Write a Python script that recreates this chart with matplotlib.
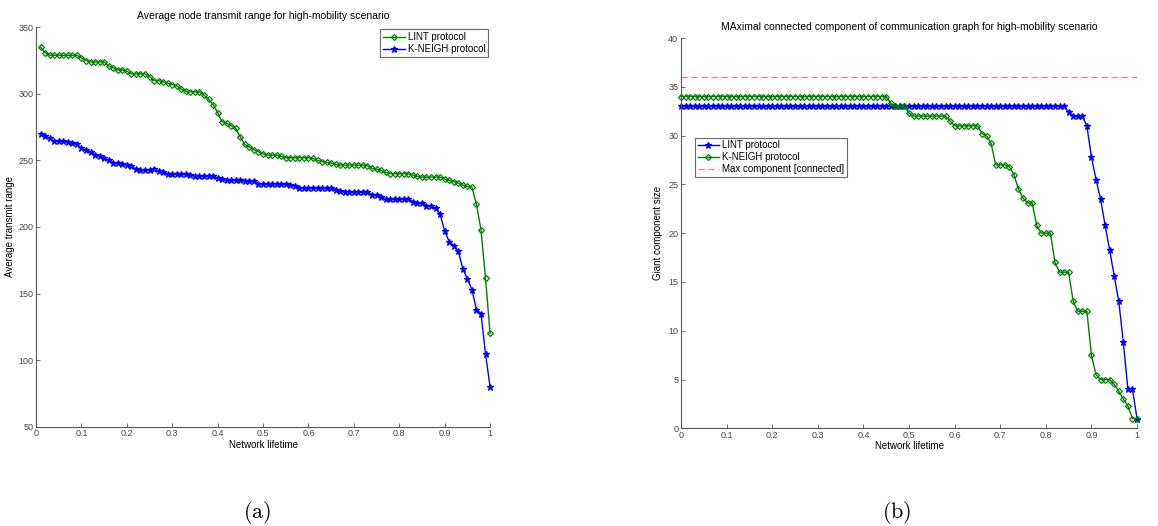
import numpy as np
import matplotlib
matplotlib.use("Agg")
import matplotlib.pyplot as plt
from matplotlib.ticker import FormatStrFormatter

plt.rcParams['font.family'] = ['Liberation Sans', 'DejaVu Sans']
plt.rcParams['mathtext.fontset'] = 'cm'

# =========================================================
# DATA
# =========================================================
# (a) average node transmit range, lifetime 0.01 .. 1.00
lifetime_a = np.round(np.arange(1, 101) / 100, 2)
lint_range = [
    335, 331, 329, 329, 329, 329, 329, 329, 329, 327,
    325, 324, 324, 324, 324, 321, 319.5, 318, 318, 317,
    315, 315, 315, 315, 313, 310, 310, 309, 308, 307,
    306, 303.5, 302, 301.5, 301.5, 301.5, 299, 296, 292, 286,
    279, 278, 276, 274, 267.5, 262, 260, 258, 256.5, 255,
    254, 254, 254, 253, 252, 252, 252, 252, 252, 252,
    251.5, 250, 249, 248.5, 248, 247, 246.5, 246.5, 246.5, 246.5,
    246.5, 246.5, 246, 244, 243.5, 242.5, 241, 240, 240, 240,
    240, 240, 239, 238, 237.5, 237.5, 237.5, 237.5, 237.5, 236,
    235, 234, 233, 231.5, 230.5, 230, 217, 198, 161.5, 120,
]
kneigh_range = [
    270, 268.5, 266.5, 264.5, 264.5, 264.5, 264, 263, 262, 259,
    257.5, 256.5, 254, 253.5, 252, 250, 248, 248, 247.5, 246.5,
    245.5, 243.5, 243, 243, 243, 243.5, 242, 241, 240, 240,
    240, 240, 240, 239, 238.5, 238, 238, 238, 238, 236.5,
    236, 235.5, 235.5, 235.5, 235, 234.5, 234.5, 234.5, 232.5, 232,
    232, 232, 232, 232, 232, 231.5, 231, 229.5, 229.5, 229.5,
    229.5, 229.5, 229.5, 229.5, 229.5, 228, 226.75, 226.25, 226.25, 226.25,
    226.25, 226.25, 226.25, 224, 223.75, 222.5, 221, 221, 221, 221,
    221, 221, 219, 218, 218, 216, 215.5, 214, 209.5, 197,
    189, 186, 182, 168.5, 161, 153, 138, 135, 104.5, 80,
]

# (b) giant component size, lifetime 0.00 .. 1.00
lifetime_b = np.round(np.arange(0, 101) / 100, 2)
lint_giant = [
    33, 33, 33, 33, 33, 33, 33, 33, 33, 33,
    33, 33, 33, 33, 33, 33, 33, 33, 33, 33,
    33, 33, 33, 33, 33, 33, 33, 33, 33, 33,
    33, 33, 33, 33, 33, 33, 33, 33, 33, 33,
    33, 33, 33, 33, 33, 33, 33, 33, 33, 33,
    33, 33, 33, 33, 33, 33, 33, 33, 33, 33,
    33, 33, 33, 33, 33, 33, 33, 33, 33, 33,
    33, 33, 33, 33, 33, 33, 33, 33, 33, 33,
    33, 33, 33, 33, 33, 32.4, 32, 32, 32, 31,
    27.8, 25.5, 23.5, 20.8, 18.25, 15.6, 13.0, 8.8, 4, 4,
    1,
]
kneigh_giant = [
    34, 34, 34, 34, 34, 34, 34, 34, 34, 34,
    34, 34, 34, 34, 34, 34, 34, 34, 34, 34,
    34, 34, 34, 34, 34, 34, 34, 34, 34, 34,
    34, 34, 34, 34, 34, 34, 34, 34, 34, 34,
    34, 34, 34, 34, 34, 34, 33.3, 33, 33, 33,
    32.3, 32, 32, 32, 32, 32, 32, 32, 32, 31.5,
    31, 31, 31, 31, 31, 31, 30.2, 30, 29.2, 27,
    27, 27, 26.8, 26, 24.5, 23.6, 23.1, 23.1, 20.8, 20,
    20, 20, 17, 16, 16, 16, 13, 12, 12, 12,
    7.5, 5.5, 5, 5, 5, 4.5, 3.8, 3.0, 2.3, 1,
    1,
]
max_component = 36

# =========================================================
# STYLE
# =========================================================
GREEN = (0.0, 0.5, 0.0)
BLUE = (0.0, 0.0, 1.0)
AX_GRAY = '#555555'
green_kw = dict(color=GREEN, linewidth=1, marker='D', markersize=3,
                markerfacecolor='none', markeredgewidth=0.9, clip_on=False)
blue_kw = dict(color=BLUE, linewidth=1, marker='*', markersize=4.5,
               markeredgewidth=0.9, clip_on=False)


def style_axes(ax):
    for side in ('top', 'right'):
        ax.spines[side].set_visible(False)
    for side in ('left', 'bottom'):
        ax.spines[side].set_color(AX_GRAY)
        ax.spines[side].set_linewidth(0.8)
    ax.tick_params(direction='in', length=3, width=0.6, colors=AX_GRAY,
                   labelsize=6.5, labelcolor='#444444', pad=2)
    ax.set_xlim(0, 1)
    ax.set_xticks(np.round(np.arange(0, 11) / 10, 1))
    ax.xaxis.set_major_formatter(FormatStrFormatter('%g'))


fig = plt.figure(figsize=(11.58, 5.26), dpi=100)

# =========================================================
# (a) AVERAGE TRANSMIT RANGE
# =========================================================
ax1 = fig.add_axes([0.0311, 0.1888, 0.3921, 0.7593])
ax1.plot(lifetime_a, lint_range, label='LINT protocol', **green_kw)
ax1.plot(lifetime_a, kneigh_range, label='K-NEIGH protocol', **blue_kw)
style_axes(ax1)
ax1.set_ylim(50, 350)
ax1.set_yticks(np.arange(50, 351, 50))
ax1.set_title('Average node transmit range for high-mobility scenario',
              fontsize=7.5, pad=6)
ax1.set_xlabel('Network lifetime', fontsize=7, labelpad=1)
ax1.set_ylabel('Average transmit range', fontsize=7, labelpad=2)
leg1 = ax1.legend(loc='upper right', fontsize=7, frameon=True, fancybox=False,
                  borderaxespad=0.2, handlelength=2.2, borderpad=0.3,
                  labelspacing=0.2, handletextpad=0.3)
leg1.get_frame().set_edgecolor('#444444')
leg1.get_frame().set_linewidth(0.8)

# =========================================================
# (b) GIANT COMPONENT SIZE
# =========================================================
ax2 = fig.add_axes([0.5881, 0.1857, 0.3938, 0.742])
ax2.plot(lifetime_b, lint_giant, label='LINT protocol', **blue_kw)
ax2.plot(lifetime_b, kneigh_giant, label='K-NEIGH protocol', **green_kw)
ax2.axhline(max_component, color='#f08080', linestyle='--', linewidth=0.9,
            dashes=(5, 3), label='Max component [connected]')
style_axes(ax2)
ax2.set_ylim(0, 40)
ax2.set_yticks(np.arange(0, 41, 5))
ax2.set_title('MAximal connected component of communication graph for high-mobility scenario',
              fontsize=7.5, pad=6)
ax2.set_xlabel('Network lifetime', fontsize=7, labelpad=1)
ax2.set_ylabel('Giant component size', fontsize=7, labelpad=4)
leg2 = ax2.legend(loc='upper left', bbox_to_anchor=(0.03, 0.745), fontsize=7,
                  frameon=True, fancybox=False, borderaxespad=0, handlelength=2.2,
                  borderpad=0.3, labelspacing=0.2, handletextpad=0.3)
leg2.get_frame().set_edgecolor('#444444')
leg2.get_frame().set_linewidth(0.8)

# sub-figure captions
fig.text(257 / 1158, 1 - 512 / 526, r'$\mathrm{(a)}$', fontsize=16,
         ha='center', va='center')
fig.text(897 / 1158, 1 - 512 / 526, r'$\mathrm{(b)}$', fontsize=16,
         ha='center', va='center')

fig.savefig('out.png', dpi=100)
